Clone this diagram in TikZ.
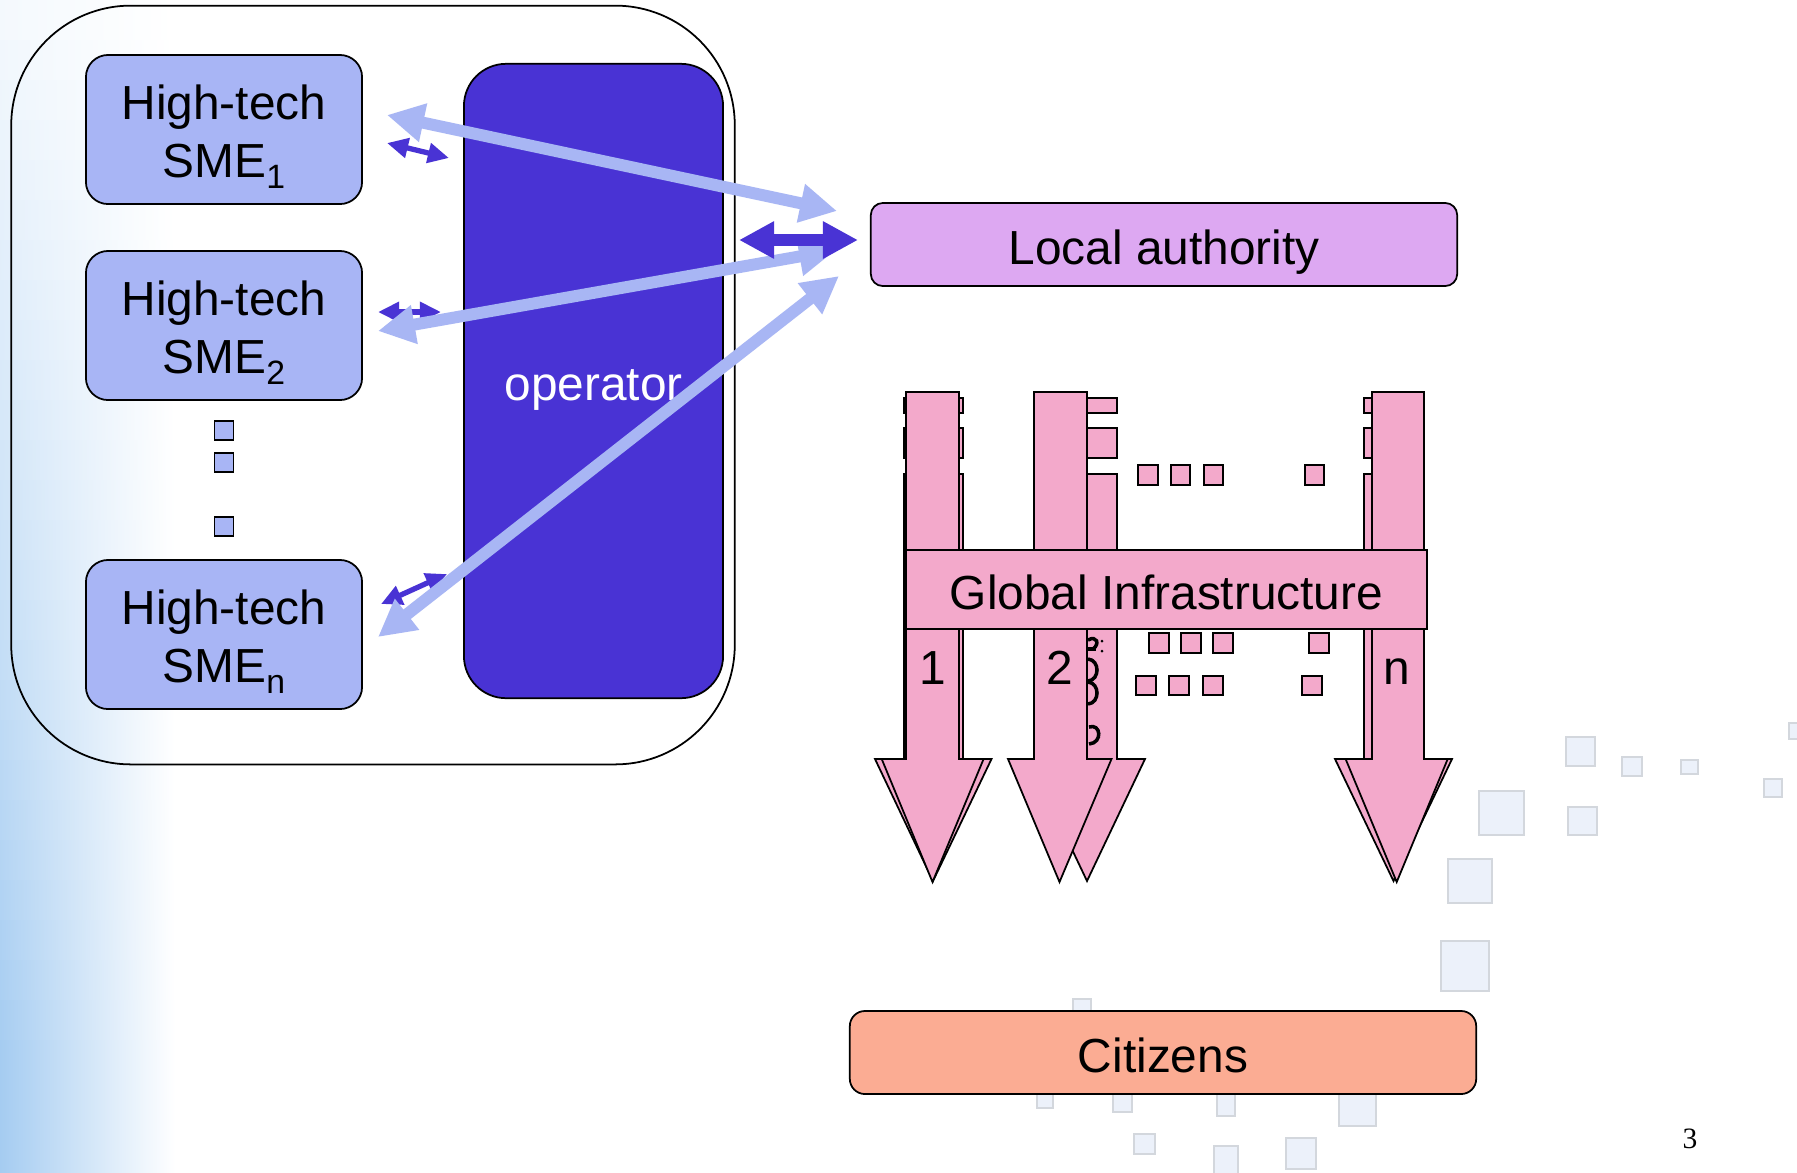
\documentclass[tikz,border=0pt]{standalone}
\usepackage{fontspec}
\setmainfont{Liberation Sans}
\newfontfamily\pagenumfont{Liberation Serif}
\usetikzlibrary{arrows.meta}

\definecolor{smefill}{HTML}{A8B5F5}
\definecolor{lightlink}{HTML}{A8B6F4}
\definecolor{opfill}{HTML}{4933D4}
\definecolor{lafill}{HTML}{DDA8F2}
\definecolor{infrafill}{HTML}{F3A9CB}
\definecolor{citfill}{HTML}{FBAC93}
\definecolor{decofill}{HTML}{ECF1FA}
\definecolor{decoline}{HTML}{D3D7DD}
\definecolor{edgeblue}{HTML}{A5CCF1}

\newcommand\smesub[1]{\raisebox{-2.9pt}{\fontsize{9.6}{10}\selectfont #1}}

\begin{document}
\begin{tikzpicture}[x=0.01cm, y=-0.01cm,
  every node/.style={inner sep=0pt, outer sep=0pt},
  lbl/.style={font=\fontsize{13.6}{16.6}\selectfont, align=center},
  box/.style={draw=black, line width=0.5pt},
  smebox/.style={box, fill=smefill, rounded corners=6.3pt,
    minimum width=2.76cm, minimum height=1.49cm},
  dotbox/.style={box, fill=smefill, minimum size=0.19cm},
  infradot/.style={box, fill=infrafill, minimum size=0.195cm},
  deco/.style={fill=decofill, draw=decoline, line width=0.4pt},
  pinkshape/.style={fill=infrafill, draw=black, line width=0.5pt, line join=miter},
  lightlinkarrow/.style={draw=lightlink, line width=3.4pt,
    {Triangle[length=10.5pt,width=10.5pt]}-{Triangle[length=10.5pt,width=10.5pt]}},
  biglink/.style={draw=opfill, line width=3.4pt,
    {Triangle[length=10pt,width=10pt]}-{Triangle[length=10pt,width=10pt]}},
  smalllink/.style={draw=opfill, line width=1.5pt,
    {Triangle[length=6pt,width=5.5pt]}-{Triangle[length=6pt,width=5.5pt]}},
  glyph/.style={draw=black, line width=1pt}
]
\useasboundingbox (0,0) rectangle (1797,1172);
\fill[white] (0,0) rectangle (1797,1172);

% soft blue band along the left edge, stronger towards the bottom
\foreach \i in {0,...,29}{
  \pgfmathsetmacro\p{min(100,12+3.4*\i)}
  \shade[left color=edgeblue!\p!white, right color=white]
    (0,\i*40) rectangle (175,\i*40+41);
}

% faint tiles scattered at the lower right
\foreach \a/\b/\c/\d in {1566/737/1595/766, 1622/757/1642/776, 1681/760/1698/774,
  1789/723/1800/739, 1764/779/1782/797, 1479/791/1524/835, 1568/807/1597/835,
  1448/859/1492/903, 1441/941/1489/991, 1339/1093/1376/1126, 1286/1138/1316/1169,
  1073/999/1091/1017, 1037/1090/1053/1108, 1113/1090/1132/1112, 1217/1090/1235/1116,
  1134/1134/1155/1154, 1214/1146/1238/1175}
  \draw[deco] (\a,\b) rectangle (\c,\d);

% the cluster of SMEs and the operator
\node[draw=black, line width=0.5pt, rounded corners=34pt,
  minimum width=7.231cm, minimum height=7.583cm] (cluster) at (373,385) {};

\node[smebox] (sme1) at (224,129.5) {};
\node[smebox] (sme2) at (224,325.5) {};
\node[smebox] (smen) at (224,634.5) {};
\node[lbl, yshift=-0.07cm] (sme1txt) at (sme1.center) {High-tech\\SME\smesub{1}};
\node[lbl, yshift=-0.07cm] (sme2txt) at (sme2.center) {High-tech\\SME\smesub{2}};
\node[lbl, yshift=-0.07cm] (smentxt) at (smen.center) {High-tech\\SME\smesub{n}};

\node[dotbox] (vdot1) at (224,430.5) {};
\node[dotbox] (vdot2) at (224,462.5) {};
\node[dotbox] (vdot3) at (224,526.5) {};

\node[box, fill=opfill, rounded corners=12pt, minimum width=2.59cm,
  minimum height=6.34cm] (op) at (593.5,381) {};
\node[lbl, text=white, anchor=base] (optxt) at (593.5,400) {operator};

% the local authority
\node[box, fill=lafill, rounded corners=3.4pt, minimum width=5.86cm,
  minimum height=0.83cm] (la) at (1164,244.5) {};
\node[lbl, anchor=base] (latxt) at (1164,264) {Local authority};

% end points of the links
\coordinate (s1a) at (387,143);  \coordinate (s1b) at (449,158);
\coordinate (s2a) at (378,312);  \coordinate (s2b) at (441,312);
\coordinate (sna) at (381,604);  \coordinate (snb) at (447,574);
\coordinate (l1a) at (387,115);  \coordinate (l1b) at (837,211);
\coordinate (l2a) at (378,331);  \coordinate (l2b) at (836,250);
\coordinate (lna) at (378,637);  \coordinate (lnb) at (839,276);
\coordinate (opout) at (739,240); \coordinate (lain) at (858,240);

% SME <-> operator
\draw[smalllink] (s1a) -- (s1b);
\draw[smalllink] (s2a) -- (s2b);
\draw[smalllink] (sna) -- (snb);
% SME <-> local authority
\draw[lightlinkarrow] (l1a) -- (l1b);
\draw[lightlinkarrow] (l2a) -- (l2b);
\draw[lightlinkarrow] (lna) -- (lnb);
% operator <-> local authority
\draw[biglink] (opout) -- (lain);

% infrastructure channels, the ones lying underneath
\foreach \l/\r/\hl/\hr/\t in {904/963/875/991.5/933, 1057/1117/1029/1145/1087,
  1364/1423/1335/1452/1393.5}{
  \draw[pinkshape] (\l,398) rectangle (\r,413);
  \draw[pinkshape] (\l,428) rectangle (\r,458);
  \draw[pinkshape] (\l,474) -- (\r,474) -- (\r,759) -- (\hr,759) -- (\t,881)
    -- (\hl,759) -- (\l,759) -- cycle;
}
% partly hidden lettering on the second lower channel
\draw[glyph] (1088,640) .. controls (1097,635) and (1100,644) .. (1093,649);
\draw[glyph] (1088,649) -- (1096,649);
\fill (1102,641) circle (1.5);
\fill (1102,651) circle (1.5);
\draw[glyph] (1088,659) .. controls (1100,660) and (1100,680) .. (1088,681);
\draw[glyph] (1088,682) .. controls (1100,683) and (1100,703) .. (1088,704);
\draw[glyph] (1089,727) .. controls (1101,723) and (1103,743) .. (1089,744);

% infrastructure channels, front row
\foreach \l/\r/\hl/\hr/\t in {906/959/881.7/983.6/932.5, 1034/1087/1008/1111.5/1059.5,
  1372/1424/1345.6/1447.7/1396.7}{
  \draw[pinkshape] (\l,392) -- (\r,392) -- (\r,759) -- (\hr,759) -- (\t,882)
    -- (\hl,759) -- (\l,759) -- cycle;
}

\node[box, fill=infrafill, minimum width=5.21cm, minimum height=0.79cm]
  (infra) at (1166.5,589.5) {};
\node[lbl, anchor=base] (infratxt) at (1166.5,609.5) {Global Infrastructure};

\node[lbl, anchor=base] (ch1) at (932.5,684) {1};
\node[lbl, anchor=base] (ch2) at (1060,684) {2};
\node[lbl, anchor=base] (chn) at (1397,684) {n};

% rows of dots between the channels
\foreach \x/\y in {1148/475, 1180.5/475, 1213.5/475, 1314.5/475,
  1159/643, 1191/643, 1223/643, 1319/643,
  1146/685.5, 1179/685.5, 1213/685.5, 1312/685.5}
  \node[infradot] at (\x,\y) {};

% the citizens
\node[box, fill=citfill, rounded corners=4.3pt, minimum width=6.26cm,
  minimum height=0.83cm] (cit) at (1163,1052.5) {};
\node[lbl, anchor=base] (cittxt) at (1163,1072.3) {Citizens};

\node[anchor=base, font=\pagenumfont\fontsize{8.4}{10}\selectfont] (pagenum)
  at (1690,1148) {3};
\end{tikzpicture}
\end{document}
